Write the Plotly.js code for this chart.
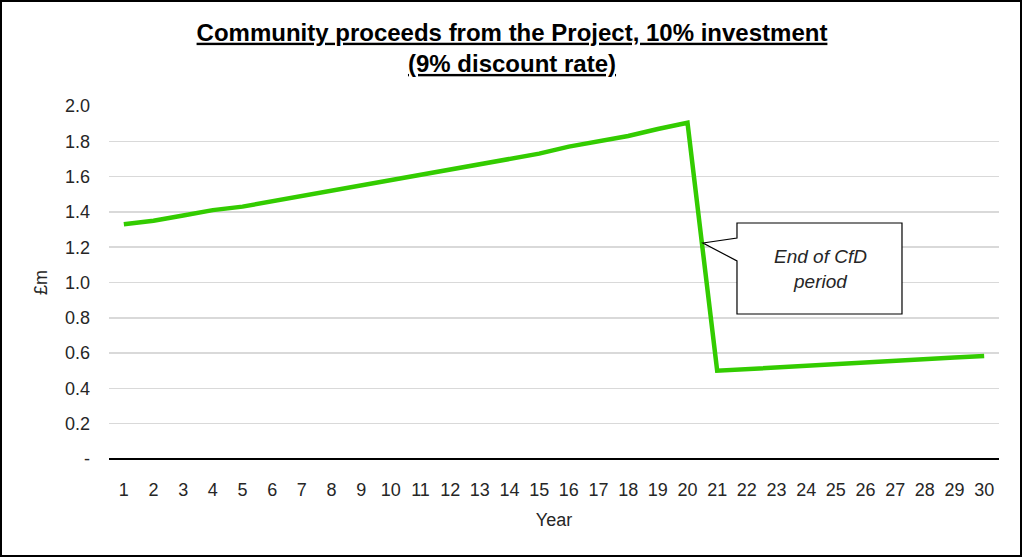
<!DOCTYPE html>
<html>
<head>
<meta charset="utf-8">
<script src="https://cdn.plot.ly/plotly-3.0.1.min.js"></script>
<style>
  body { margin: 0; background: #fff; }
  #wrap { position: relative; width: 1024px; height: 558px; }
  #plot { width: 1024px; height: 558px; }
  #frame {
    position: absolute; left: 0; top: 0; width: 1022px; height: 557px;
    box-sizing: border-box; border: 2.5px solid #000; pointer-events: none;
  }
</style>
</head>
<body>
<div id="wrap">
  <div id="plot"></div>
  <div id="frame"></div>
</div>
<script>
  // years 1..30
  const years = ["1","2","3","4","5","6","7","8","9","10","11","12","13","14","15",
                 "16","17","18","19","20","21","22","23","24","25","26","27","28","29","30"];
  // community proceeds, £m
  const proceeds = [1.33, 1.35, 1.38, 1.41, 1.43, 1.46, 1.49, 1.52, 1.55, 1.58,
                    1.61, 1.64, 1.67, 1.70, 1.73, 1.77, 1.80, 1.83, 1.87, 1.905,
                    0.50, 0.51, 0.52, 0.53, 0.535, 0.545, 0.555, 0.565, 0.575, 0.583];
  const yTickVals = [0, 0.2, 0.4, 0.6, 0.8, 1.0, 1.2, 1.4, 1.6, 1.8, 2.0];
  const yTickText = ["-", "0.2", "0.4", "0.6", "0.8", "1.0", "1.2", "1.4", "1.6", "1.8", "2.0"];

  const font = "Liberation Sans, Arial, sans-serif";

  var data = [{
    x: years,
    y: proceeds,
    mode: "lines",
    type: "scatter",
    line: {color: "#33cc00", width: 4.5}
  }];

  var layout = {
    width: 1024,
    height: 558,
    margin: {t: 106, r: 25, b: 99, l: 109},
    paper_bgcolor: "#fff",
    plot_bgcolor: "#fff",
    showlegend: false,
    font: {family: font, size: 18, color: "#262626"},
    title: {
      text: "<b><u>Community proceeds from the Project, 10% investment</u></b><br><b><u>(9% discount rate)</u></b>",
      font: {family: font, size: 24, color: "#000"},
      x: 0.5, xanchor: "center",
      y: 0.927, yanchor: "top"
    },
    xaxis: {
      type: "category",
      range: [-0.5, 29.5],
      tickfont: {size: 18, color: "#262626"},
      showgrid: false,
      ticks: "",
      showline: false,
      zeroline: false,
      ticklabelstandoff: 18,
      title: {text: "Year", font: {size: 18, color: "#262626"}, standoff: 14}
    },
    yaxis: {
      range: [0, 2.0],
      tickvals: yTickVals,
      ticktext: yTickText,
      tickfont: {size: 18, color: "#262626"},
      gridcolor: "#d9d9d9",
      gridwidth: 1.5,
      zeroline: true,
      zerolinecolor: "#000",
      zerolinewidth: 2,
      ticks: "",
      ticklabelstandoff: 18,
      title: {text: "£m", font: {size: 18, color: "#262626"}, standoff: 12}
    },
    shapes: [{
      type: "path",
      xref: "paper", yref: "paper",
      path: "M 0.7056,0.6686 L 0.891,0.6686 L 0.891,0.4108 L 0.7056,0.4108 L 0.7056,0.561 L 0.6674,0.612 L 0.7056,0.626 Z",
      fillcolor: "#fff",
      line: {color: "#000", width: 1.2}
    }],
    annotations: [{
      xref: "paper", yref: "paper",
      x: 0.799, y: 0.537,
      xanchor: "center", yanchor: "middle",
      showarrow: false,
      text: "<i>End of CfD</i><br><i>period</i>",
      font: {family: font, size: 19, color: "#262626"}
    }]
  };

  Plotly.newPlot("plot", data, layout, {displayModeBar: false, staticPlot: true});
</script>
</body>
</html>
